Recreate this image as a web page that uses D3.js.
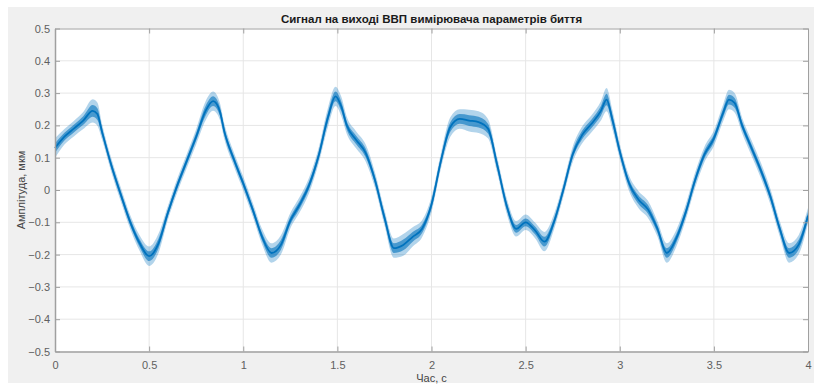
<!DOCTYPE html>
<html>
<head>
<meta charset="utf-8">
<script src="https://cdn.jsdelivr.net/npm/d3@7"></script>
<style>
  body { margin: 0; background: #fff; }
  text { font-family: "Liberation Sans", Arial, sans-serif; }
</style>
</head>
<body>
<div id="chart"></div>
<script>
// time, s
const time = [0, 0.05, 0.1, 0.15, 0.2, 0.225, 0.25, 0.3, 0.35, 0.4, 0.45, 0.5, 0.55, 0.6, 0.65, 0.7, 0.75, 0.8, 0.84, 0.875, 0.9, 0.95,
  1.0, 1.05, 1.1, 1.15, 1.2, 1.25, 1.3, 1.35, 1.4, 1.45, 1.49, 1.52, 1.55, 1.6, 1.65, 1.7, 1.75, 1.8, 1.85, 1.9, 1.95,
  2.0, 2.05, 2.1, 2.15, 2.2, 2.25, 2.3, 2.35, 2.4, 2.45, 2.5, 2.55, 2.6, 2.65, 2.7, 2.75, 2.8, 2.85, 2.9, 2.93, 2.96,
  3.0, 3.05, 3.1, 3.15, 3.2, 3.25, 3.3, 3.35, 3.4, 3.45, 3.5, 3.55, 3.58, 3.61, 3.65, 3.7, 3.75, 3.8, 3.85, 3.9, 3.95, 4.0];
// amplitude, um (running mean of the noisy trace)
const amp = [0.13, 0.165, 0.19, 0.215, 0.245, 0.235, 0.18, 0.075, -0.015, -0.10, -0.165, -0.205, -0.165, -0.07, 0.015, 0.09, 0.165, 0.245, 0.275, 0.245, 0.18, 0.095,
  0.02, -0.06, -0.145, -0.195, -0.17, -0.095, -0.045, 0.015, 0.105, 0.225, 0.29, 0.26, 0.20, 0.155, 0.115, 0.03, -0.085, -0.18, -0.17, -0.145, -0.12,
  -0.045, 0.09, 0.195, 0.22, 0.215, 0.21, 0.19, 0.075, -0.05, -0.12, -0.10, -0.125, -0.16, -0.10, 0.0, 0.11, 0.17, 0.205, 0.245, 0.28, 0.22,
  0.12, 0.02, -0.03, -0.06, -0.12, -0.195, -0.15, -0.07, 0.03, 0.11, 0.16, 0.24, 0.28, 0.27, 0.20, 0.13, 0.06, -0.02, -0.12, -0.195, -0.17, -0.08];
// half width of the noise band
const noise = [0.025, 0.02, 0.02, 0.022, 0.03, 0.03, 0.02, 0.018, 0.018, 0.018, 0.02, 0.025, 0.025, 0.018, 0.018, 0.018, 0.02, 0.025, 0.025, 0.022, 0.02, 0.018,
  0.018, 0.018, 0.02, 0.025, 0.025, 0.02, 0.02, 0.02, 0.02, 0.025, 0.025, 0.025, 0.022, 0.022, 0.022, 0.02, 0.02, 0.025, 0.028, 0.025, 0.022,
  0.02, 0.02, 0.025, 0.025, 0.028, 0.028, 0.025, 0.02, 0.02, 0.02, 0.02, 0.02, 0.025, 0.02, 0.018, 0.02, 0.022, 0.022, 0.025, 0.03, 0.025,
  0.02, 0.02, 0.022, 0.022, 0.02, 0.025, 0.022, 0.02, 0.02, 0.02, 0.02, 0.022, 0.025, 0.025, 0.02, 0.02, 0.02, 0.02, 0.02, 0.025, 0.025, 0.02];

const xTicks = [0, 0.5, 1, 1.5, 2, 2.5, 3, 3.5, 4];
const yTicks = [-0.5, -0.4, -0.3, -0.2, -0.1, 0, 0.1, 0.2, 0.3, 0.4, 0.5];

const title = 'Сигнал на виході ВВП вимірювача параметрів биття';
const xTitle = 'Час, с';
const yTitle = 'Амплітуда, мкм';

const width = 814, height = 385;
const margin = { top: 28.5, right: 6, bottom: 33.5, left: 55 };
const contentWidth = width - margin.left - margin.right;
const contentHeight = height - margin.top - margin.bottom;
const blue = '#0072BD';

const svg = d3.select('#chart').append('svg')
  .attr('width', width)
  .attr('height', height);

// figure background
svg.append('rect')
  .attr('x', 8).attr('y', 7)
  .attr('width', width - 8).attr('height', height - 9)
  .attr('fill', '#f0f0f0');

const x = d3.scaleLinear().domain([0, 4]).range([0, contentWidth]);
const y = d3.scaleLinear().domain([-0.5, 0.5]).range([contentHeight, 0]);

const g = svg.append('g')
  .attr('transform', 'translate(' + margin.left + ',' + margin.top + ')');

g.append('rect')
  .attr('width', contentWidth).attr('height', contentHeight)
  .attr('fill', '#fff');

// grid
g.append('g').selectAll('line')
  .data(xTicks.slice(1, -1))
  .enter().append('line')
  .attr('x1', d => x(d)).attr('x2', d => x(d))
  .attr('y1', 0).attr('y2', contentHeight)
  .attr('stroke', '#e6e6e6');
g.append('g').selectAll('line')
  .data(yTicks.slice(1, -1))
  .enter().append('line')
  .attr('x1', 0).attr('x2', contentWidth)
  .attr('y1', d => y(d)).attr('y2', d => y(d))
  .attr('stroke', '#e6e6e6');

const data = time.map((t, i) => ({ t: t, v: amp[i], n: noise[i] }));

const outer = d3.area()
  .x(d => x(d.t))
  .y0(d => y(d.v - d.n * 1.2))
  .y1(d => y(d.v + d.n * 1.2))
  .curve(d3.curveMonotoneX);
const inner = d3.area()
  .x(d => x(d.t))
  .y0(d => y(d.v - d.n * 0.6))
  .y1(d => y(d.v + d.n * 0.6))
  .curve(d3.curveMonotoneX);
const line = d3.line()
  .x(d => x(d.t))
  .y(d => y(d.v))
  .curve(d3.curveMonotoneX);

g.append('path').datum(data).attr('d', outer)
  .attr('fill', blue).attr('fill-opacity', 0.3);
g.append('path').datum(data).attr('d', inner)
  .attr('fill', blue).attr('fill-opacity', 0.6);
g.append('path').datum(data).attr('d', line)
  .attr('fill', 'none').attr('stroke', blue).attr('stroke-width', 1.8);

// axes (ticks inside, box on)
function styleAxis(sel, hideText) {
  sel.select('.domain').attr('stroke', '#a0a0a0');
  sel.selectAll('.tick line').attr('stroke', '#a0a0a0');
  sel.selectAll('.tick text')
    .attr('fill', '#5f5f5f')
    .style('font-size', '11px')
    .style('display', hideText ? 'none' : null);
}

g.append('g')
  .attr('transform', 'translate(0,' + contentHeight + ')')
  .call(d3.axisBottom(x).tickValues(xTicks).tickFormat(d3.format('')).tickSizeInner(-5).tickSizeOuter(0).tickPadding(10))
  .call(s => styleAxis(s, false))
  .call(s => s.select('.domain').attr('stroke-width', 1.5));
g.append('g')
  .call(d3.axisTop(x).tickValues(xTicks).tickSizeInner(-5).tickSizeOuter(0))
  .call(s => styleAxis(s, true));
g.append('g')
  .call(d3.axisLeft(y).tickValues(yTicks).tickFormat(d3.format('')).tickSizeInner(-5).tickSizeOuter(0).tickPadding(5))
  .call(s => styleAxis(s, false))
  .call(s => s.select('.domain').attr('stroke-width', 1.5));
g.append('g')
  .attr('transform', 'translate(' + contentWidth + ',0)')
  .call(d3.axisRight(y).tickValues(yTicks).tickSizeInner(-5).tickSizeOuter(0))
  .call(s => styleAxis(s, true));

g.selectAll('.tick text').attr('font-family', '"Liberation Sans", Arial, sans-serif');

// titles
svg.append('text')
  .attr('x', margin.left + contentWidth / 2).attr('y', 23)
  .attr('text-anchor', 'middle')
  .style('font-size', '11.5px').style('font-weight', 'bold')
  .attr('fill', '#1a1a1a')
  .text(title);
svg.append('text')
  .attr('x', margin.left + contentWidth / 2).attr('y', 382)
  .attr('text-anchor', 'middle')
  .style('font-size', '11px')
  .attr('fill', '#444')
  .text(xTitle);
svg.append('text')
  .attr('transform', 'translate(25,' + (margin.top + contentHeight / 2) + ') rotate(-90)')
  .attr('text-anchor', 'middle')
  .style('font-size', '11px')
  .attr('fill', '#444')
  .text(yTitle);
</script>
</body>
</html>
